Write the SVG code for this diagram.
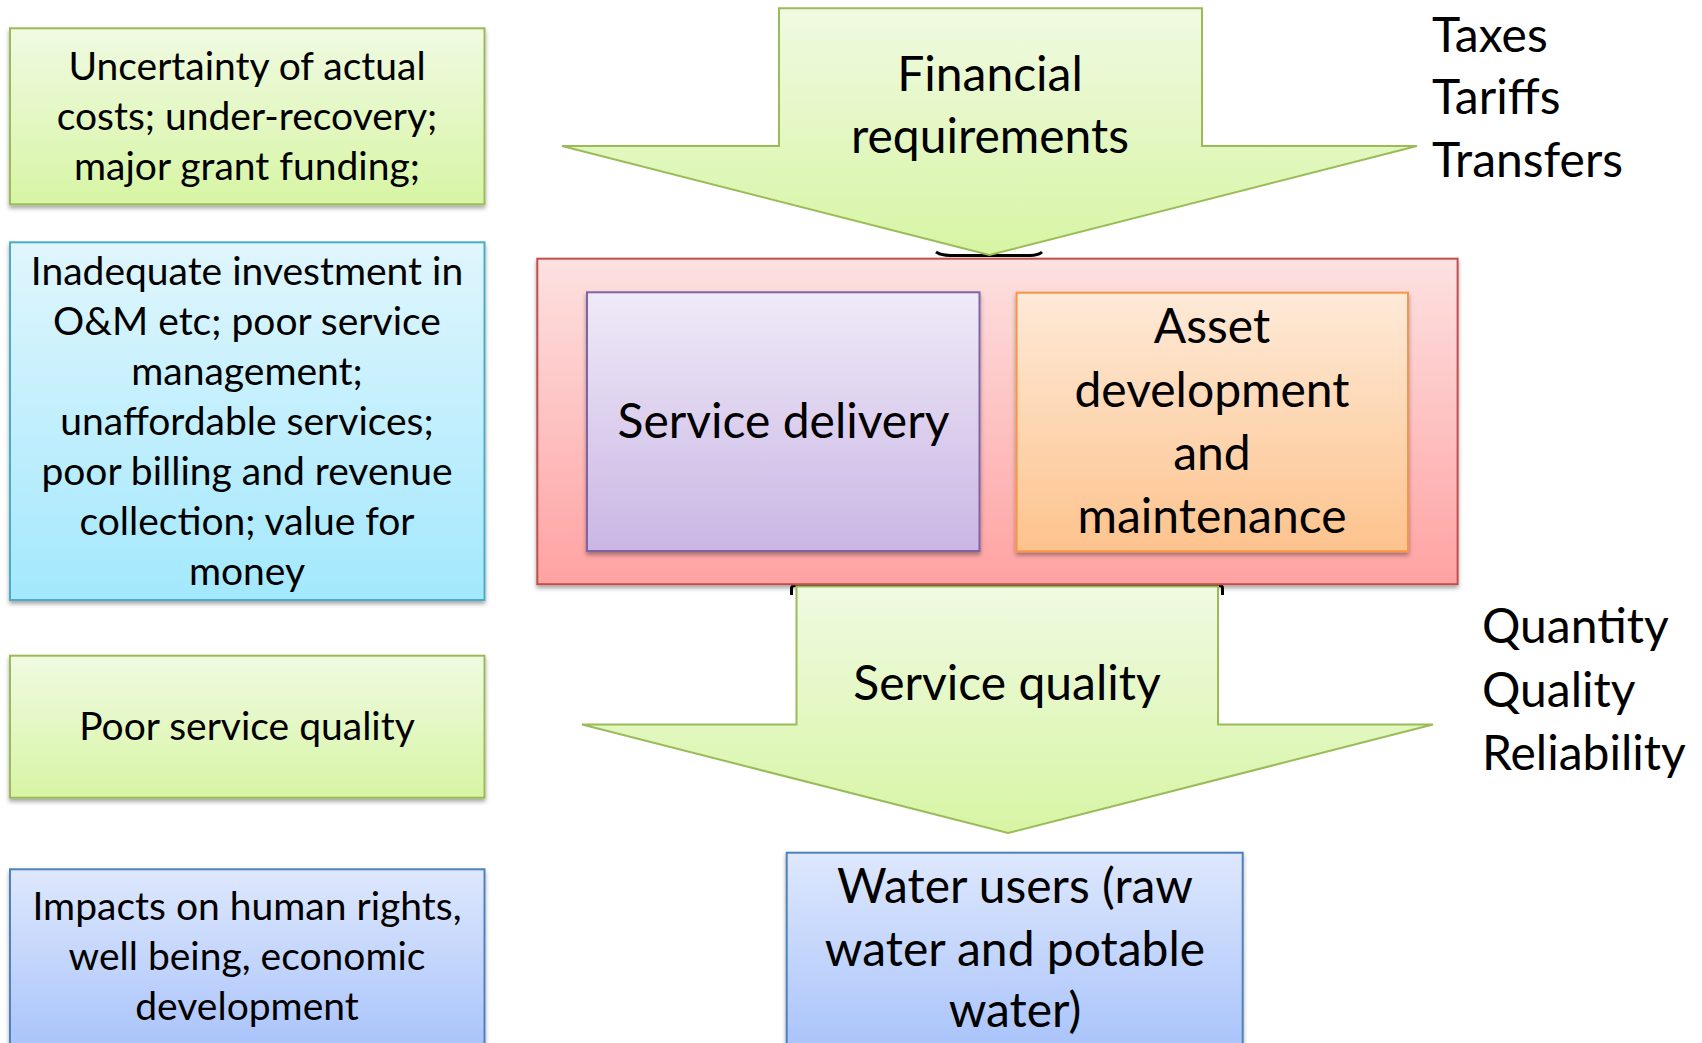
<svg xmlns="http://www.w3.org/2000/svg" width="1702" height="1043" viewBox="0 0 1702 1043">
<style>
text{font-family:Lato,"Carlito","Open Sans","Liberation Sans",sans-serif;fill:#000;text-anchor:middle}
.s{font-size:39px}
.l{font-size:48px}
.r{text-anchor:start}
.bx{stroke-width:2}
</style>
<defs>
<filter id="sh" x="-5%" y="-5%" width="110%" height="115%">
<feDropShadow dx="0" dy="3" stdDeviation="2" flood-color="#000" flood-opacity="0.35"/>
</filter>
<linearGradient id="gG" x1="0" y1="0" x2="0" y2="1"><stop offset="0" stop-color="#f0fae2"/><stop offset="1" stop-color="#d7f5a4"/></linearGradient>
<linearGradient id="gA" x1="0" y1="0" x2="0" y2="1"><stop offset="0" stop-color="#e0f6fd"/><stop offset="1" stop-color="#a3e8fd"/></linearGradient>
<linearGradient id="gB" x1="0" y1="0" x2="0" y2="1"><stop offset="0" stop-color="#dee8fd"/><stop offset="1" stop-color="#a3bffa"/></linearGradient>
<linearGradient id="gR" x1="0" y1="0" x2="0" y2="1"><stop offset="0" stop-color="#fde1e1"/><stop offset="1" stop-color="#ffa2a2"/></linearGradient>
<linearGradient id="gP" x1="0" y1="0" x2="0" y2="1"><stop offset="0" stop-color="#efeaf8"/><stop offset="1" stop-color="#cab6e4"/></linearGradient>
<linearGradient id="gO" x1="0" y1="0" x2="0" y2="1"><stop offset="0" stop-color="#feead8"/><stop offset="1" stop-color="#fdc38d"/></linearGradient>
</defs>
<rect width="1702" height="1043" fill="#fff"/>

<g id="box-uncertainty">
<rect class="bx" x="10" y="28.3" width="474.5" height="176" fill="url(#gG)" stroke="#9bbb59" filter="url(#sh)"/>
<text class="s" x="247" y="80">Uncertainty of actual</text>
<text class="s" x="247" y="130">costs; under-recovery;</text>
<text class="s" x="247" y="180">major grant funding;</text>
</g>

<g id="box-inadequate">
<rect class="bx" x="10" y="242.3" width="474.5" height="357.7" fill="url(#gA)" stroke="#4bacc6" filter="url(#sh)"/>
<text class="s" x="247" y="285">Inadequate investment in</text>
<text class="s" x="247" y="335">O&amp;M etc; poor service</text>
<text class="s" x="247" y="385">management;</text>
<text class="s" x="247" y="435">unaffordable services;</text>
<text class="s" x="247" y="485">poor billing and revenue</text>
<text class="s" x="247" y="535">collection; value for</text>
<text class="s" x="247" y="585">money</text>
</g>

<g id="box-poor-quality">
<rect class="bx" x="10" y="655.7" width="474.5" height="142" fill="url(#gG)" stroke="#9bbb59" filter="url(#sh)"/>
<text class="s" x="247" y="740">Poor service quality</text>
</g>

<g id="box-impacts">
<rect class="bx" x="10" y="869.3" width="474.5" height="200" fill="url(#gB)" stroke="#4f81bd" filter="url(#sh)"/>
<text class="s" x="247" y="920">Impacts on human rights,</text>
<text class="s" x="247" y="970">well being, economic</text>
<text class="s" x="247" y="1020">development</text>
</g>

<g id="connectors">
<path d="M936,252 Q940,255 950,255.5 L1030,255.5 Q1039,255 1042,252" fill="none" stroke="#000" stroke-width="3"/>
<path d="M791.5,595 L791.5,588 Q792,585.5 795,585.5 L1219,585.5 Q1222.5,585.5 1222.5,588 L1222.5,595" fill="none" stroke="#000" stroke-width="3"/>
</g>

<g id="container-red">
<rect class="bx" x="537.3" y="258.7" width="920.3" height="325.5" fill="url(#gR)" stroke="#c0504d" filter="url(#sh)"/>
</g>

<g id="arrow-financial">
<polygon class="bx" points="779,8.3 1202,8.3 1202,146 1417,146 989.5,255 562,146 779,146" fill="url(#gG)" stroke="#9bbb59"/>
<text class="l" x="990" y="91">Financial</text>
<text class="l" x="990" y="153">requirements</text>
</g>

<g id="box-service-delivery">
<rect class="bx" x="587" y="292.3" width="392.5" height="258.7" fill="url(#gP)" stroke="#8064a2" filter="url(#sh)"/>
<text class="l" x="783.5" y="438">Service delivery</text>
</g>

<g id="box-asset">
<rect class="bx" x="1016.6" y="292.7" width="391.4" height="258.6" fill="url(#gO)" stroke="#f79646" filter="url(#sh)"/>
<text class="l" x="1212" y="343">Asset</text>
<text class="l" x="1212" y="407">development</text>
<text class="l" x="1212" y="470">and</text>
<text class="l" x="1212" y="533">maintenance</text>
</g>

<g id="arrow-service-quality">
<polygon class="bx" points="796.5,586.5 1218,586.5 1218,724.5 1433,724.5 1008,833 582,724.5 796.5,724.5" fill="url(#gG)" stroke="#9bbb59"/>
<text class="l" x="1007" y="700">Service quality</text>
</g>

<g id="box-water-users">
<rect class="bx" x="786.7" y="852.7" width="456" height="220" fill="url(#gB)" stroke="#4f81bd" filter="url(#sh)"/>
<text class="l" x="1015" y="903">Water users (raw</text>
<text class="l" x="1015" y="966">water and potable</text>
<text class="l" x="1015" y="1027">water)</text>
</g>

<g id="label-funding">
<text class="l r" x="1432" y="52">Taxes</text>
<text class="l r" x="1432" y="114">Tariffs</text>
<text class="l r" x="1432" y="177">Transfers</text>
</g>

<g id="label-quality">
<text class="l r" x="1482" y="643">Quantity</text>
<text class="l r" x="1482" y="707">Quality</text>
<text class="l r" x="1482" y="770">Reliability</text>
</g>
</svg>
